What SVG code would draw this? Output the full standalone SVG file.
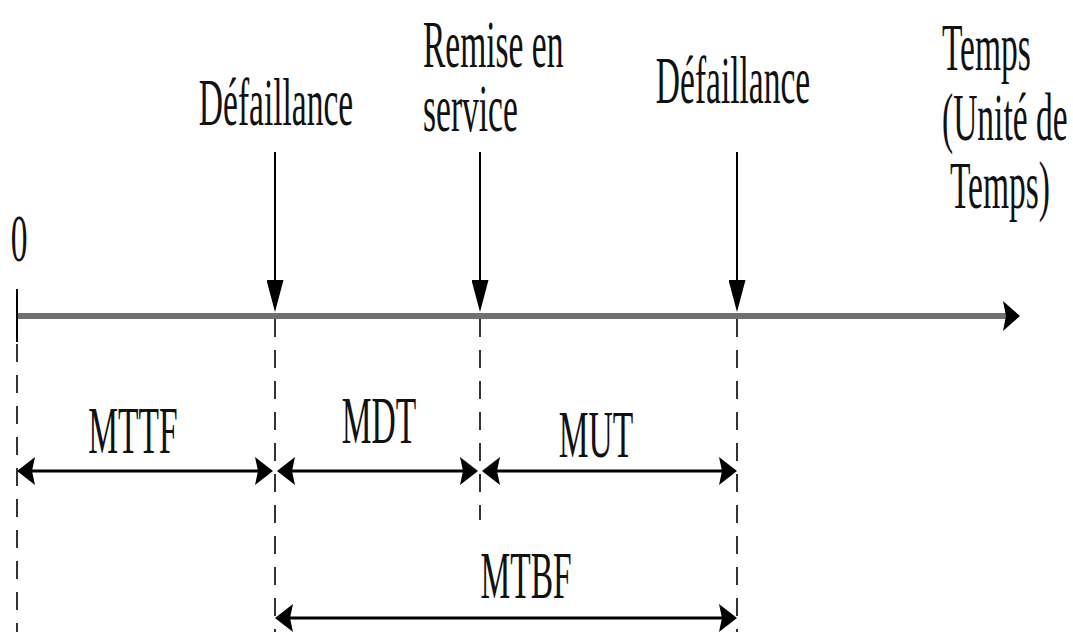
<svg xmlns="http://www.w3.org/2000/svg" width="1073" height="632" viewBox="0 0 1073 632">
  <style>
    .lbl { font-family: "Liberation Serif", "Times New Roman", serif; font-size: 67px; fill: #111; }
    .mid { text-anchor: middle; }
    .dash { stroke: #333; stroke-width: 2; stroke-dasharray: 18 13; fill: none; }
    .dim { stroke: #000; stroke-width: 3; fill: none; marker-start: url(#head); marker-end: url(#head); }
    .drop { stroke: #000; stroke-width: 2; fill: none; marker-end: url(#drophead); }
  </style>
  <defs>
    <!-- notched head for the duration arrows; tip sits 11px past the line end -->
    <marker id="head" viewBox="0 0 18 28" refX="7" refY="14" markerWidth="18" markerHeight="28" markerUnits="userSpaceOnUse" orient="auto-start-reverse">
      <path d="M0,0 L18,14 L0,28 L3,14 Z" fill="#000"/>
    </marker>
    <!-- long narrow head for the event arrows -->
    <marker id="drophead" viewBox="0 0 32 17" refX="6" refY="8.5" markerWidth="32" markerHeight="17" markerUnits="userSpaceOnUse" orient="auto">
      <path d="M0,0 L32,8.5 L0,17 Z" fill="#000"/>
    </marker>
  </defs>

  <rect width="1073" height="632" fill="#fff"/>

  <!-- time axis -->
  <g id="axis">
    <line x1="17" y1="316" x2="1006" y2="316" stroke="#707070" stroke-width="6"/>
    <path d="M1003,301 L1020,316 L1003,331 L1006,316 Z" fill="#000"/>
    <line x1="17" y1="289" x2="17" y2="342" stroke="#000" stroke-width="2"/>
    <text class="lbl mid" transform="translate(19,261) scale(0.5,1)">0</text>
    <text class="lbl" transform="translate(942,70) scale(0.5,1)">Temps</text>
    <text class="lbl" transform="translate(942,140) scale(0.5,1)">(Unité de</text>
    <text class="lbl" transform="translate(950,208) scale(0.5,1)">Temps)</text>
  </g>

  <!-- events on the axis -->
  <g id="event-failure-1">
    <text class="lbl mid" transform="translate(276,125) scale(0.5,1)">Défaillance</text>
  </g>
  <g id="event-restore">
    <text class="lbl" transform="translate(423,67) scale(0.5,1)">Remise en</text>
    <text class="lbl" transform="translate(423,131) scale(0.5,1)">service</text>
  </g>
  <g id="event-failure-2">
    <text class="lbl mid" transform="translate(733,103) scale(0.5,1)">Défaillance</text>
  </g>

  <!-- durations -->
  <g id="mttf"><text class="lbl mid" transform="translate(133,453) scale(0.5,1)">MTTF</text></g>
  <g id="mdt"><text class="lbl mid" transform="translate(379,443) scale(0.5,1)">MDT</text></g>
  <g id="mut"><text class="lbl mid" transform="translate(596,457) scale(0.5,1)">MUT</text></g>
  <g id="mtbf"><text class="lbl mid" transform="translate(526,598) scale(0.5,1)">MTBF</text></g>

  <!-- connectors -->
  <g id="connectors">
    <line class="drop" x1="275" y1="152" x2="275" y2="286"/>
    <line class="drop" x1="480" y1="152" x2="480" y2="286"/>
    <line class="drop" x1="737" y1="152" x2="737" y2="286"/>

    <line class="dash" x1="17" y1="344" x2="17" y2="632"/>
    <line class="dash" x1="275" y1="319" x2="275" y2="632"/>
    <line class="dash" x1="480" y1="319" x2="480" y2="520"/>
    <line class="dash" x1="737" y1="319" x2="737" y2="632"/>

    <line class="dim" x1="28" y1="471" x2="262" y2="471"/>
    <line class="dim" x1="288" y1="471" x2="467" y2="471"/>
    <line class="dim" x1="493" y1="471" x2="726" y2="471"/>
    <line class="dim" x1="286" y1="618" x2="726" y2="618"/>
  </g>
</svg>
